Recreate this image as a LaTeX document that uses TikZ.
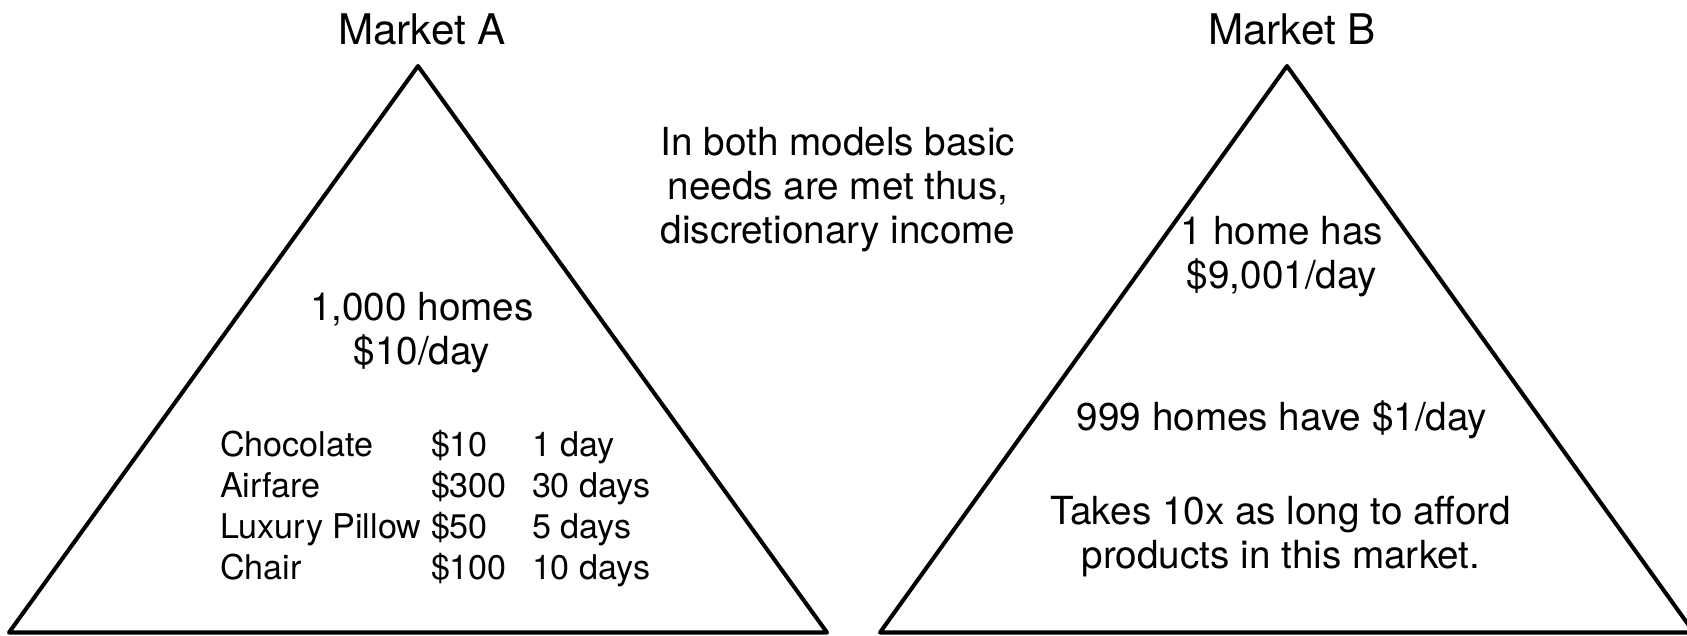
\documentclass[tikz,border=0pt]{standalone}
\usepackage{fontspec}
\setmainfont{TeX Gyre Heros}
\begin{document}
\begin{tikzpicture}[x=0.01cm, y=-0.01cm, line width=1.15pt, line join=round,
        every node/.style={inner sep=0pt},
        title/.style={font=\fontsize{12}{14}\selectfont, anchor=base},
        note/.style={font=\fontsize{11}{12.4}\selectfont, align=center, anchor=base},
        cell/.style={font=\fontsize{9.7}{11.6}\selectfont, anchor=base west}]
    \useasboundingbox (0,0) rectangle (1687,635);

    % market A
    \coordinate (topA) at (418,66);
    \coordinate (leftA) at (9,632.5);
    \coordinate (rightA) at (827,632.5);
    \draw (topA) -- (rightA) -- (leftA) -- cycle;
    \node[title] (titleA) at (422,44) {Market A};
    \node[note] (homesA) at (422,364) {1,000 homes\\\$10/day};
    \foreach \thing/\cost/\wait [count=\i] in {Chocolate/\$10/1 day, Airfare/\$300/30 days,
            Luxury Pillow/\$50/5 days, Chair/\$100/10 days} {
        \node[cell] (thing\i) at (218, {456+41.3*(\i-1)}) {\thing};
        \node[cell] (cost\i) at (429, {456+41.3*(\i-1)}) {\cost};
        \node[cell] (wait\i) at (530, {456+41.3*(\i-1)}) {\wait};
    }

    % text between the two (base = last line)
    \node[note] (both) at (838,243) {In both models basic\\needs are met thus,\\discretionary income};

    % market B
    \coordinate (topB) at (1287,66);
    \coordinate (leftB) at (880,632.5);
    \coordinate (rightB) at (1694,632.5);
    \draw (topB) -- (rightB) -- (leftB) -- cycle;
    \node[title] (titleB) at (1292,44) {Market B};
    \node[note] (richB) at (1282,288) {1 home has\\\$9,001/day};
    \node[note] (poorB) at (1282,430) {999 homes have \$1/day};
    \node[note] (slowB) at (1281,568) {Takes 10x as long to afford\\products in this market.};
\end{tikzpicture}
\end{document}
